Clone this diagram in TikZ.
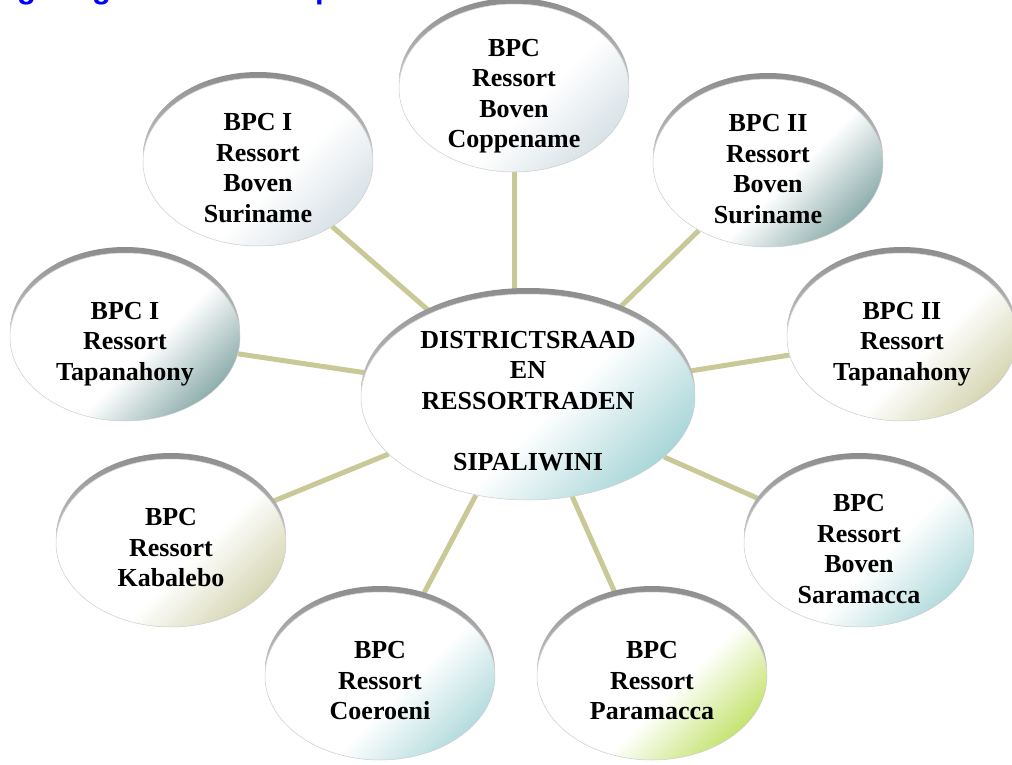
\documentclass[tikz,border=0pt]{standalone}
\usepackage{fontspec}
\setmainfont{Liberation Serif}
\setsansfont{Liberation Sans}
\usetikzlibrary{shapes.geometric,backgrounds}

\definecolor{linkolive}{RGB}{201,201,152}
\definecolor{hiteal}{RGB}{80,130,128}
\definecolor{hicyan}{RGB}{140,200,204}
\definecolor{hiolive}{RGB}{192,192,140}
\definecolor{hipale}{RGB}{195,210,218}
\definecolor{higreen}{RGB}{165,212,36}
\definecolor{titleblue}{RGB}{0,0,255}

\begin{document}
\begin{tikzpicture}[x=1pt, y=1pt,
      bubble/.style = {ellipse, draw=gray!40, line width=0.5pt, fill=white,
        inner sep=0pt, minimum width=230pt, minimum height=168pt,
        preaction={top color=gray!90, bottom color=white, draw=none,
          transform canvas={yshift=6pt}},
        path picture={\shade[top color=#1, bottom color=white, middle color=white,
            shading angle=225]
          (path picture bounding box.north west) rectangle
          ([xshift=40pt, yshift=-30pt]path picture bounding box.south east);}},
      txt/.style = {align=center, inner sep=0pt,
        font=\bfseries\fontsize{26}{30.5}\selectfont},
      title/.style = {inner sep=0pt, text=titleblue,
        font=\sffamily\bfseries\fontsize{31}{36}\selectfont},
      link/.style = {draw=linkolive, line width=5pt}]
    \useasboundingbox (0,-765) rectangle (1012,0);

    % cut-off heading
    \begin{scope}
      \clip (0,-6) rectangle (1012,0);
      \node[title, anchor=base west] (g1) at (17,1.5) {g};
      \node[title, anchor=base west] (g2) at (92,1.5) {g};
      \node[title, anchor=base west] (p1) at (315,1.5) {p};
    \end{scope}

    % centre
    \node[bubble=hicyan, minimum width=334pt, minimum height=206pt] (main) at (528,-397) {};
    \node[txt] (main-t) at ([yshift=-4pt]main) {DISTRICTSRAAD\\EN\\RESSORTRADEN\\[30.5pt]SIPALIWINI};

    % resorts
    \node[bubble=hipale] (cop) at (514,-88) {};
    \node[txt] (cop-t) at ([yshift=-8pt]cop) {BPC\\Ressort\\Boven\\Coppename};

    \node[bubble=hipale] (bs1) at (258,-162) {};
    \node[txt] (bs1-t) at ([yshift=-6pt]bs1) {BPC I\\Ressort\\Boven\\Suriname};

    \node[bubble=hiteal] (bs2) at (768,-163) {};
    \node[txt] (bs2-t) at ([yshift=-6pt]bs2) {BPC II\\Ressort\\Boven\\Suriname};

    \node[bubble=hiteal] (tap1) at (125,-337) {};
    \node[txt] (tap1-t) at ([yshift=-7pt]tap1) {BPC I\\Ressort\\Tapanahony};

    \node[bubble=hiolive] (tap2) at (902,-337) {};
    \node[txt] (tap2-t) at ([yshift=-7pt]tap2) {BPC II\\Ressort\\Tapanahony};

    \node[bubble=hiolive] (kab) at (171,-543) {};
    \node[txt] (kab-t) at ([yshift=-5pt]kab) {BPC\\Ressort\\Kabalebo};

    \node[bubble=hicyan] (sar) at (859,-543) {};
    \node[txt] (sar-t) at ([yshift=-6pt]sar) {BPC\\Ressort\\Boven\\Saramacca};

    \node[bubble=hicyan] (coe) at (380,-676) {};
    \node[txt] (coe-t) at ([yshift=-5pt]coe) {BPC\\Ressort\\Coeroeni};

    \node[bubble=higreen] (par) at (652,-676) {};
    \node[txt] (par-t) at ([yshift=-5pt]par) {BPC\\Ressort\\Paramacca};

    % connectors
    \begin{scope}[on background layer]
      \draw[link] (cop) -- (cop |- main);
      \draw[link] (main) -- (bs1);
      \draw[link] (main) -- (bs2);
      \draw[link] (main) -- (tap1);
      \draw[link] (main) -- (tap2);
      \draw[link] (main) -- (kab);
      \draw[link] (main) -- (sar);
      \draw[link] (main) -- (coe);
      \draw[link] (main) -- (par);
    \end{scope}

  \end{tikzpicture}
\end{document}
